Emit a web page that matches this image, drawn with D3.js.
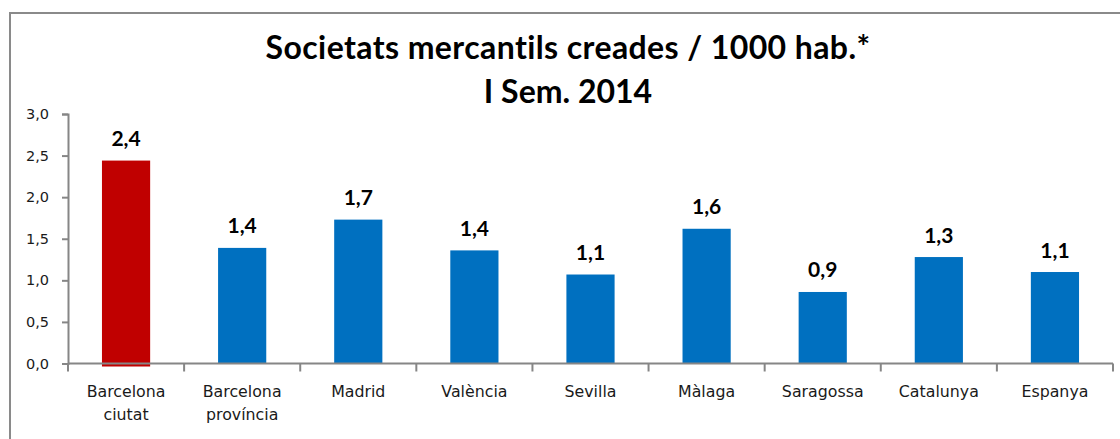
<!DOCTYPE html>
<html>
<head>
<meta charset="utf-8">
<script src="https://cdn.jsdelivr.net/npm/d3@7"></script>
<style>
  html, body { margin: 0; padding: 0; background: #ffffff; }
  svg { display: block; }
</style>
</head>
<body>
<svg id="chart" width="1120" height="439"></svg>
<script>
// ---- data ----
const categories = ["Barcelona\nciutat", "Barcelona\nprovíncia", "Madrid", "València", "Sevilla", "Màlaga", "Saragossa", "Catalunya", "Espanya"];
const values = [2.44, 1.39, 1.73, 1.36, 1.07, 1.62, 0.86, 1.28, 1.10];
const highlight = ["Barcelona\nciutat"];
const yTicks = [0, 0.5, 1.0, 1.5, 2.0, 2.5, 3.0];
const titleLines = ["Societats mercantils creades / 1000 hab.*", "I Sem. 2014"];

// ---- layout ----
const W = 1120, H = 439;
const plot = { left: 68, right: 1113, top: 114, bottom: 363.5 };
const svg = d3.select("#chart");
const loc = d3.formatLocale({ decimal: ",", thousands: ".", grouping: [3], currency: ["", " €"] });
const fmt = loc.format(".1f");

// outer border (extends past window edges, as in reference)
svg.append("rect")
  .attr("x", 10).attr("y", 13).attr("width", 1130).attr("height", 440)
  .attr("fill", "none").attr("stroke", "#8a8a8a").attr("stroke-width", 2);

// title
svg.append("g").selectAll("text").data(titleLines).join("text")
  .attr("x", 568).attr("y", (d, i) => 59 + i * 44)
  .attr("text-anchor", "middle")
  .attr("font-family", "Lato, 'Open Sans', sans-serif")
  .attr("font-weight", "bold")
  .attr("font-size", 32)
  .attr("letter-spacing", (d, i) => i === 0 ? 0.4 : 0)
  .attr("fill", "#000")
  .text(d => d);

const x = d3.scaleBand().domain(categories).range([plot.left, plot.right]).padding(0);
const y = d3.scaleLinear().domain([0, 3]).range([plot.bottom, plot.top]);
const barW = x.bandwidth() * 0.415;

// bars
svg.append("g").selectAll("rect").data(categories).join("rect")
  .attr("x", d => x(d) + x.bandwidth() / 2 - barW / 2)
  .attr("y", (d, i) => y(values[i]))
  .attr("width", barW)
  .attr("height", (d, i) => y(0) - y(values[i]) + (highlight.includes(d) ? 3 : 0))
  .attr("fill", d => highlight.includes(d) ? "#C00000" : "#0070C0");

// value labels
svg.append("g").selectAll("text").data(categories).join("text")
  .attr("x", d => x(d) + x.bandwidth() / 2)
  .attr("y", (d, i) => y(values[i]) - 14.5)
  .attr("text-anchor", "middle")
  .attr("font-family", "Lato, sans-serif")
  .attr("font-weight", "bold")
  .attr("font-size", 21)
  .attr("fill", "#000")
  .text((d, i) => fmt(values[i]));

// y axis
const yAxis = svg.append("g")
  .attr("transform", `translate(${plot.left},0)`)
  .call(d3.axisLeft(y).tickValues(yTicks).tickFormat(fmt).tickSize(6).tickSizeOuter(6).tickPadding(13));
yAxis.select(".domain").attr("stroke", "#868686").attr("stroke-width", 2);
yAxis.selectAll(".tick line").attr("stroke", "#868686").attr("stroke-width", 2);
yAxis.selectAll(".tick text")
  .attr("font-family", "'DejaVu Sans', sans-serif")
  .attr("font-size", 14.5)
  .attr("fill", "#1a1a1a");

// x axis line
const xAxisG = svg.append("g");
xAxisG.append("line")
  .attr("x1", plot.left).attr("x2", plot.right)
  .attr("y1", y(0)).attr("y2", y(0))
  .attr("stroke", "#868686").attr("stroke-width", 2);
// category boundary ticks
const bounds = categories.map(c => x(c)).concat([x(categories[categories.length - 1]) + x.bandwidth()]);
xAxisG.selectAll("line.tk").data(bounds).join("line")
  .attr("class", "tk")
  .attr("x1", d => d).attr("x2", d => d)
  .attr("y1", y(0)).attr("y2", y(0) + 8)
  .attr("stroke", "#868686").attr("stroke-width", 2);

// category labels
const catG = svg.append("g").selectAll("text").data(categories).join("text")
  .attr("x", d => x(d) + x.bandwidth() / 2)
  .attr("y", 397)
  .attr("text-anchor", "middle")
  .attr("font-family", "'DejaVu Sans', sans-serif")
  .attr("font-size", 15.8)
  .attr("fill", "#1a1a1a");
catG.each(function(d) {
  const t = d3.select(this);
  d.split("\n").forEach((line, i) => {
    t.append("tspan").attr("x", x(d) + x.bandwidth() / 2).attr("dy", i === 0 ? 0 : 23).text(line);
  });
});
</script>
</body>
</html>
